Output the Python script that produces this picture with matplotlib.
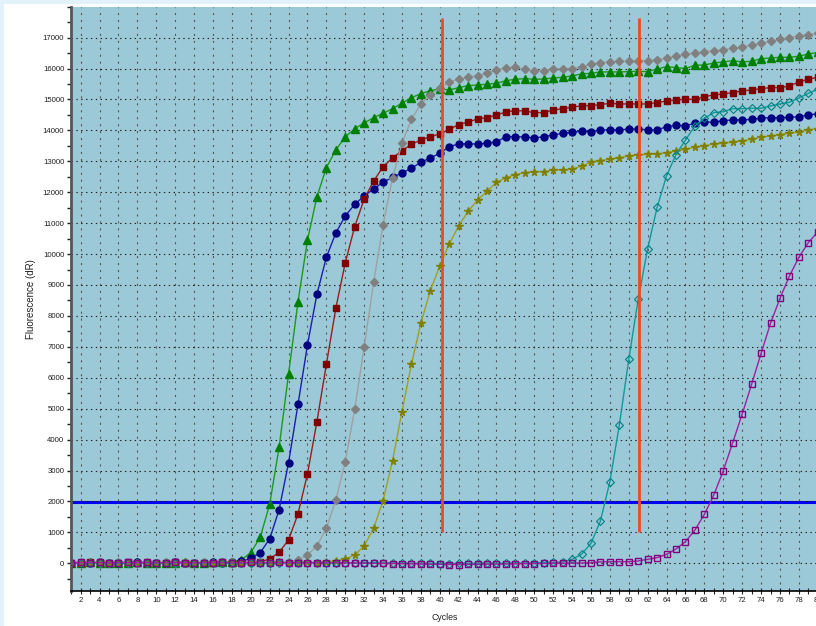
import matplotlib
matplotlib.use("Agg")
import matplotlib.pyplot as plt
import numpy as np
from matplotlib.patches import Rectangle
from matplotlib.ticker import MultipleLocator, FixedLocator

plt.rcParams['font.family'] = ['Liberation Sans', 'DejaVu Sans']
plt.rcParams['lines.scale_dashes'] = False

cycles = np.arange(1, 81)

# amplification curves, one value per cycle
green = [20, 15, 25, 20, 18, 22, 20, 25, 18, 20,
         22, 20, 25, 22, 20, 25, 30, 45, 110, 343,
         840, 1908, 3752, 6122, 8461, 10446, 11856, 12794, 13370, 13787,
         14056, 14240, 14412, 14553, 14703, 14877, 15058, 15187, 15285, 15340,
         15307, 15382, 15446, 15469, 15492, 15524, 15608, 15653, 15673, 15653,
         15660, 15696, 15718, 15760, 15825, 15847, 15890, 15890, 15890, 15900,
         15910, 15900, 15986, 16062, 16030, 16000, 16106, 16115, 16180, 16213,
         16255, 16213, 16234, 16320, 16340, 16363, 16363, 16397, 16472, 16520]
navy = [10, 20, 15, 25, 20, 15, 20, 25, 20, 15,
        20, 25, 20, 15, 20, 25, 20, 30, 60, 161,
        343, 786, 1734, 3250, 5142, 7060, 8700, 9896, 10682, 11232,
        11610, 11879, 12105, 12322, 12484, 12623, 12775, 12969, 13108, 13260,
        13473, 13561, 13561, 13561, 13583, 13626, 13797, 13797, 13787, 13755,
        13797, 13851, 13906, 13938, 13970, 13960, 14013, 14013, 14013, 14045,
        14045, 14013, 14013, 14121, 14164, 14153, 14229, 14261, 14272, 14315,
        14337, 14337, 14358, 14390, 14412, 14412, 14422, 14444, 14498, 14540]
maroon = [15, 20, 25, 20, 15, 20, 25, 20, 20, 15,
          20, 25, 20, 20, 15, 20, 25, 20, 20, 25,
          45, 139, 355, 754, 1600, 2888, 4580, 6436, 8247, 9722,
          10886, 11780, 12360, 12822, 13113, 13340, 13551, 13690, 13797, 13884,
          14036, 14185, 14272, 14369, 14412, 14498, 14595, 14638, 14627, 14573,
          14573, 14660, 14703, 14746, 14800, 14800, 14833, 14877, 14855, 14855,
          14855, 14855, 14898, 14952, 14984, 15006, 15006, 15092, 15146, 15178,
          15221, 15275, 15307, 15350, 15383, 15383, 15436, 15566, 15653, 15720]
grey = [20, 25, 20, 15, 20, 25, 20, 20, 15, 20,
        25, 20, 15, 20, 25, 20, 20, 25, 20, 20,
        25, 20, 30, 45, 107, 268, 560, 1132, 2047, 3286,
        4990, 6995, 9088, 10951, 12471, 13583, 14360, 14854, 15155, 15362,
        15566, 15653, 15728, 15760, 15857, 15954, 16019, 16040, 15976, 15911,
        15933, 15976, 15998, 15998, 16062, 16148, 16191, 16213, 16234, 16234,
        16255, 16255, 16277, 16341, 16406, 16471, 16493, 16547, 16579, 16601,
        16655, 16709, 16752, 16817, 16882, 16947, 17001, 17054, 17097, 17140]
olive = [15, 20, 20, 25, 20, 15, 20, 20, 25, 20,
         15, 20, 25, 20, 20, 15, 20, 25, 20, 20,
         15, 20, 25, 20, 20, 25, 20, 40, 75, 139,
         268, 560, 1132, 2025, 3318, 4904, 6436, 7762, 8817, 9625,
         10327, 10909, 11384, 11750, 12031, 12322, 12471, 12568, 12632, 12665,
         12665, 12719, 12719, 12740, 12849, 12969, 13023, 13066, 13109, 13173,
         13205, 13227, 13227, 13281, 13334, 13388, 13452, 13497, 13561, 13583,
         13615, 13658, 13712, 13776, 13819, 13862, 13906, 13949, 14014, 14060]
teal = [10, 15, 10, 20, 15, 10, 15, 20, 15, 10,
        15, 10, 20, 15, 10, 15, 20, 15, 10, 15,
        10, 15, 20, 15, 10, 15, 20, 15, 10, 15,
        10, 15, 20, 15, 10, 5, 0, 0, -5, -10,
        -10, -5, 0, 0, 5, 0, 5, 10, 10, 15,
        20, 25, 40, 129, 290, 647, 1368, 2640, 4473, 6597,
        8548, 10174, 11513, 12535, 13220, 13690, 14143, 14392, 14574, 14606,
        14703, 14703, 14714, 14714, 14789, 14854, 14908, 15049, 15200, 15330]
purple = [20, 25, 20, 25, 20, 20, 25, 20, 25, 15,
          20, 25, 20, 15, 20, 20, 25, 20, 20, 25,
          20, 20, 25, 20, 15, 20, 20, 15, 20, 15,
          10, 5, 0, -5, -10, -15, -20, -25, -30, -35,
          -40, -40, -35, -35, -30, -30, -25, -20, -15, -10,
          -5, 0, 0, 5, 10, 15, 45, 50, 50, 52,
          75, 128, 182, 290, 462, 699, 1076, 1584, 2209, 2996,
          3901, 4828, 5789, 6792, 7762, 8570, 9292, 9896, 10369, 10720]

threshold = 1975
ct_markers = [40.25, 61.1]

fig = plt.figure(figsize=(8.16, 6.26), dpi=100, facecolor='white')
fig.patches.append(Rectangle((0, 0), 4 / 816, 1, transform=fig.transFigure,
                             facecolor='#e3f2fa', edgecolor='none', zorder=0))
fig.patches.append(Rectangle((0, 1 - 4 / 626), 1, 4 / 626, transform=fig.transFigure,
                             facecolor='#e3f2fa', edgecolor='none', zorder=0))

# plot area runs past the right edge of the window
ax = fig.add_axes([71.2 / 816, 1 - 591.1 / 626, (836.7 - 71.2) / 816, (591.1 - 6.7) / 626])
ax.set_facecolor('#9cc9d8')
ax.set_xlim(1, 82)
ax.set_ylim(-900, 18000)

ax.axhline(threshold, color='#0000ff', lw=2.2, zorder=1.5)

series = [
    (green, '#1a9a1a', dict(marker='^', ms=5.5, mfc='#008000', mec='#008000')),
    (navy, '#1c1cb0', dict(marker='o', ms=5, mfc='#000080', mec='#000080')),
    (maroon, '#9a1c1c', dict(marker='s', ms=5, mfc='#800000', mec='#800000')),
    (grey, '#a0a0a0', dict(marker='D', ms=4.5, mfc='#808080', mec='#808080')),
    (olive, '#a0a020', dict(marker='*', ms=5.5, mfc='#808000', mec='#808000')),
    (teal, '#109a9a', dict(marker='D', ms=3.6, mfc='none', mec='#008080', mew=0.8)),
    (purple, '#a020a0', dict(marker='s', ms=5, mfc='none', mec='#800080', mew=1.0)),
]
for vals, lc, mk in series:
    ax.plot(cycles, vals, color=lc, lw=1, zorder=2, **mk)

for ct in ct_markers:
    ax.vlines(ct, 1000, 17650, color='#f04a20', lw=2, zorder=3)

ax.xaxis.set_major_locator(MultipleLocator(2))
ax.xaxis.set_minor_locator(MultipleLocator(1))
ax.yaxis.set_major_locator(FixedLocator(np.arange(0, 17001, 1000)))
ax.yaxis.set_minor_locator(FixedLocator(np.arange(-500, 18001, 500)))

ax.grid(True, axis='y', which='major', color='#202020', lw=0.8, linestyle=(0, (1, 2.5)))
ax.grid(True, axis='x', which='major', color='#555555', lw=0.8, linestyle=(0, (1.5, 3.5)))

ax.tick_params(axis='x', which='both', direction='inout', length=4, width=0.8,
               labelsize=5.6, pad=2, colors='#202020')
ax.tick_params(axis='y', which='both', direction='out', length=3, width=1,
               labelsize=5.6, pad=2, colors='#202020')

for side in ('top', 'right'):
    ax.spines[side].set_visible(False)
ax.spines['left'].set_color('#555555')
ax.spines['left'].set_linewidth(2)
ax.spines['bottom'].set_color('black')
ax.spines['bottom'].set_linewidth(1.2)

ax.set_ylabel('Fluorescence (dR)', fontsize=7, labelpad=5, color='#202020')
fig.text(444.5 / 816, 1 - 617 / 626, 'Cycles', fontsize=6.3, ha='center', va='center',
         color='#202020')

fig.savefig('out.png', dpi=100, facecolor=fig.get_facecolor())
